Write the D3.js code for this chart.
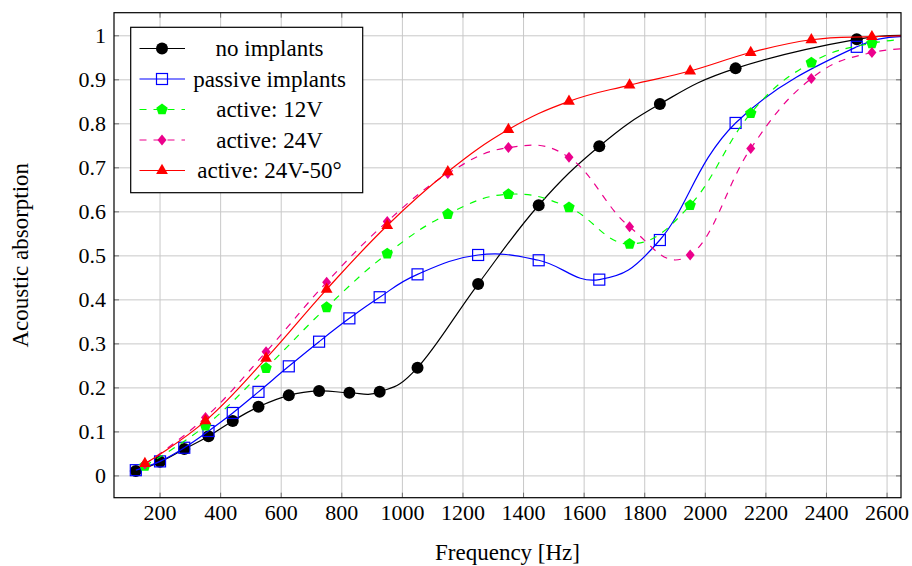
<!DOCTYPE html>
<html lang="en">
<head>
<meta charset="UTF-8">
<title>acoustic absorption</title>
<script src="https://cdn.jsdelivr.net/npm/d3@7"></script>
<style>
  body { margin: 0; background: #fff; }
</style>
</head>
<body>
<svg width="912" height="566" id="mainsvg" font-family="Liberation Serif, Times New Roman, DejaVu Serif, serif"></svg>
<script>
// data (frequency in Hz, absorption 0..1)
const freqNone = [120, 200, 280, 360, 440, 525, 625, 725, 825, 925, 1050, 1250, 1450, 1650, 1850, 2100, 2500, 2700]
const absNone = [0.011, 0.032, 0.061, 0.090, 0.125, 0.157, 0.183, 0.193, 0.189, 0.191, 0.246, 0.436, 0.615, 0.749, 0.845, 0.926, 0.992, 0.999]
const freqPassive = [120, 200, 280, 360, 440, 525, 625, 725, 825, 925, 1050, 1250, 1450, 1650, 1850, 2100, 2500, 2700]
const absPassive = [0.013, 0.033, 0.064, 0.102, 0.143, 0.191, 0.249, 0.305, 0.358, 0.406, 0.458, 0.502, 0.490, 0.446, 0.536, 0.802, 0.975, 0.993]
const freqActive = [150, 350, 550, 750, 950, 1150, 1350, 1550, 1750, 1950, 2150, 2350, 2550, 2750]
const abs12V = [0.023, 0.114, 0.245, 0.383, 0.505, 0.595, 0.640, 0.610, 0.527, 0.615, 0.824, 0.939, 0.983, 0.995]
const abs24V = [0.027, 0.133, 0.282, 0.440, 0.578, 0.687, 0.746, 0.724, 0.566, 0.502, 0.744, 0.903, 0.962, 0.970]
const abs24V50 = [0.028, 0.125, 0.267, 0.424, 0.569, 0.691, 0.787, 0.851, 0.888, 0.920, 0.962, 0.991, 0.998, 1.001]
const xTicks = [200, 400, 600, 800, 1000, 1200, 1400, 1600, 1800, 2000, 2200, 2400, 2600]
const yTicks = [0, 0.1, 0.2, 0.3, 0.4, 0.5, 0.6, 0.7, 0.8, 0.9, 1]

const svg = d3.select('#mainsvg')
const font = 'Liberation Serif, Times New Roman, DejaVu Serif, serif'
const pLeft = 114, pRight = 901, pTop = 12.7, pBottom = 497.7

const xScale = d3.scaleLinear().domain([48, 2646]).range([pLeft, pRight])
const yScale = d3.scaleLinear().domain([-0.0495, 1.0525]).range([pBottom, pTop])

// grid
const grid = svg.append('g')
grid.selectAll('.gx').data(xTicks).join('line')
    .attr('x1', d => xScale(d)).attr('x2', d => xScale(d))
    .attr('y1', pTop).attr('y2', pBottom)
    .attr('stroke', '#c8c8c8').attr('stroke-width', 1)
grid.selectAll('.gy').data(yTicks).join('line')
    .attr('x1', pLeft).attr('x2', pRight)
    .attr('y1', d => yScale(d)).attr('y2', d => yScale(d))
    .attr('stroke', '#c8c8c8').attr('stroke-width', 1)

// inward ticks on all four sides
const tickLen = 5
const ticks = svg.append('g').attr('stroke', '#6e6e6e').attr('stroke-width', 1)
xTicks.forEach(t => {
    ticks.append('line').attr('x1', xScale(t)).attr('x2', xScale(t)).attr('y1', pBottom).attr('y2', pBottom - tickLen)
    ticks.append('line').attr('x1', xScale(t)).attr('x2', xScale(t)).attr('y1', pTop).attr('y2', pTop + tickLen)
})
yTicks.forEach(t => {
    ticks.append('line').attr('y1', yScale(t)).attr('y2', yScale(t)).attr('x1', pLeft).attr('x2', pLeft + tickLen)
    ticks.append('line').attr('y1', yScale(t)).attr('y2', yScale(t)).attr('x1', pRight).attr('x2', pRight - tickLen)
})

// tick labels
svg.append('g').selectAll('text').data(xTicks).join('text')
    .attr('x', d => xScale(d)).attr('y', 520)
    .attr('text-anchor', 'middle').attr('font-size', 22).attr('font-family', font)
    .text(d => d)
svg.append('g').selectAll('text').data(yTicks).join('text')
    .attr('x', 106).attr('y', d => yScale(d) + 7.5)
    .attr('text-anchor', 'end').attr('font-size', 22).attr('font-family', font)
    .text(d => d)

// axis labels
svg.append('text').attr('x', (pLeft + pRight) / 2).attr('y', 560)
    .attr('text-anchor', 'middle').attr('font-size', 23).attr('font-family', font).text('Frequency [Hz]')
svg.append('text').attr('transform', `translate(28, ${(pTop + pBottom) / 2}) rotate(-90)`)
    .attr('text-anchor', 'middle').attr('font-size', 23).attr('font-family', font).text('Acoustic absorption')

// clip
svg.append('clipPath').attr('id', 'plotclip').append('rect')
    .attr('x', pLeft).attr('y', pTop).attr('width', pRight - pLeft).attr('height', pBottom - pTop)

// marker shapes
function pentagon(r) {
    let p = []
    for (let i = 0; i < 5; i++) {
        const a = -Math.PI / 2 + i * 2 * Math.PI / 5
        p.push([r * Math.cos(a), r * Math.sin(a)])
    }
    return 'M' + p.join('L') + 'Z'
}
const markers = {
    circle: g => g.append('circle').attr('r', 6).attr('fill', '#000'),
    square: g => g.append('rect').attr('x', -5.5).attr('y', -5.5).attr('width', 11).attr('height', 11)
        .attr('fill', 'none').attr('stroke', '#0000ff').attr('stroke-width', 1.2),
    pentagon: g => g.append('path').attr('d', pentagon(6)).attr('fill', '#00ff00'),
    diamond: g => g.append('path').attr('d', 'M0,-5.5L4.5,0L0,5.5L-4.5,0Z').attr('fill', '#ec008c'),
    triangle: g => g.append('path').attr('d', d3.symbol(d3.symbolTriangle, 60)()).attr('fill', '#ff0000')
}

const series = [
    { name: 'no implants', xs: freqNone, ys: absNone, color: '#000000', dash: null, marker: 'circle' },
    { name: 'passive implants', xs: freqPassive, ys: absPassive, color: '#0000ff', dash: null, marker: 'square' },
    { name: 'active: 12V', xs: freqActive, ys: abs12V, color: '#00ff00', dash: '7,7', marker: 'pentagon' },
    { name: 'active: 24V', xs: freqActive, ys: abs24V, color: '#ec008c', dash: '7,7', marker: 'diamond' },
    { name: 'active: 24V-50°', xs: freqActive, ys: abs24V50, color: '#ff0000', dash: null, marker: 'triangle' }
]

const line = d3.line().x(d => xScale(d[0])).y(d => yScale(d[1])).curve(d3.curveCardinal.tension(-0.2))

series.forEach(s => {
    const pts = s.xs.map((x, i) => [x, s.ys[i]])
    svg.append('path').attr('d', line(pts))
        .attr('clip-path', 'url(#plotclip)')
        .attr('fill', 'none').attr('stroke', s.color).attr('stroke-width', 1.2)
        .attr('stroke-dasharray', s.dash)
    pts.filter(p => p[0] <= 2646).forEach(p => {
        const g = svg.append('g').attr('transform', `translate(${xScale(p[0])},${yScale(p[1])})`)
        markers[s.marker](g)
    })
})

// frame
svg.append('rect').attr('x', pLeft).attr('y', pTop).attr('width', pRight - pLeft).attr('height', pBottom - pTop)
    .attr('fill', 'none').attr('stroke', '#000').attr('stroke-width', 1.2)

// legend
const lg = svg.append('g')
lg.append('rect').attr('x', 130.7).attr('y', 27.3).attr('width', 232).attr('height', 165.4)
    .attr('fill', '#fff').attr('stroke', '#000').attr('stroke-width', 1.2)
series.forEach((s, i) => {
    const cy = 48.5 + i * 30.5
    lg.append('line').attr('x1', 139.5).attr('x2', 185).attr('y1', cy).attr('y2', cy)
        .attr('stroke', s.color).attr('stroke-width', 1.2).attr('stroke-dasharray', s.dash)
    markers[s.marker](lg.append('g').attr('transform', `translate(162,${cy})`))
    lg.append('text').attr('x', 269.5).attr('y', cy + 7.5).attr('text-anchor', 'middle')
        .attr('font-size', 23).attr('font-family', font).text(s.name)
})
</script>
</body>
</html>
